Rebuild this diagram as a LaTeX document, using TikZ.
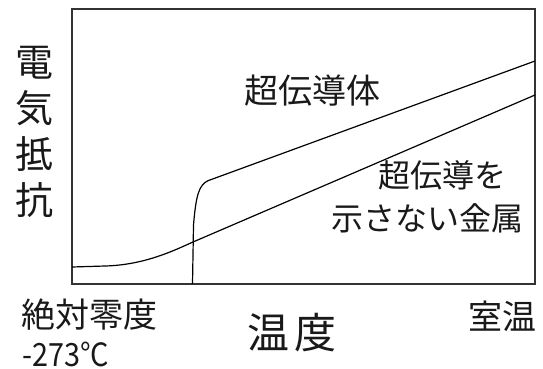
\documentclass[tikz,border=0pt]{standalone}
\usepackage{graphicx}
\usepackage{fontspec}
\setmainfont{Noto Sans CJK JP}
\begin{document}
\begin{tikzpicture}[x=1pt,y=-1pt,
  frameline/.style={draw=black!80,line width=1.6pt},
  curve/.style={draw=black,line width=1.2pt},
  lbl/.style={inner sep=0pt,text=black!90},
]
\path[use as bounding box,fill=white] (0,0) rectangle (543,369);
% frame
\draw[frameline] (72,9) rectangle (535,284);
% coordinates
\coordinate (n0) at (72,267);
\coordinate (n1) at (105,266);
\coordinate (nx) at (193,242);
\coordinate (nE) at (535,95);
\coordinate (s0) at (192.5,284);
\coordinate (s1) at (193.5,225);
\coordinate (s2) at (208,180.7);
\coordinate (sE) at (535,61);
% normal metal
\draw[curve] (n0) -- (n1) .. controls (145,265) and (175,250) .. (nx) -- (nE);
% superconductor
\draw[curve] (s0) -- (s1) .. controls (196,195) and (199,185) .. (s2) -- (sE);
% labels
\node[lbl,align=center,font=\fontsize{38}{46}\selectfont] (ylab) at (35,132) {電\\気\\抵\\抗};
\node[lbl,font=\fontsize{34}{40}\selectfont] (sc) at (312,91) {超伝導体};
\node[lbl,font=\fontsize{32}{38}\selectfont] (nm1) at (442,175) {超伝導を};
\node[lbl,font=\fontsize{32}{38}\selectfont] (nm2) at (427,218) {示さない金属};
\node[lbl,font=\fontsize{34}{40}\selectfont] (zero) at (89.5,315) {絶対零度};
\node[lbl,anchor=west,font=\fontsize{32}{38}\selectfont] (zeroC) at (22,354.5) {\scalebox{0.9}[1]{-273°C}};
\node[lbl,font=\fontsize{42}{48}\selectfont] (temp) at (292,333) {温\hspace{6pt}度};
\node[lbl,font=\fontsize{34}{40}\selectfont] (room) at (502,316) {室温};
\end{tikzpicture}
\end{document}
